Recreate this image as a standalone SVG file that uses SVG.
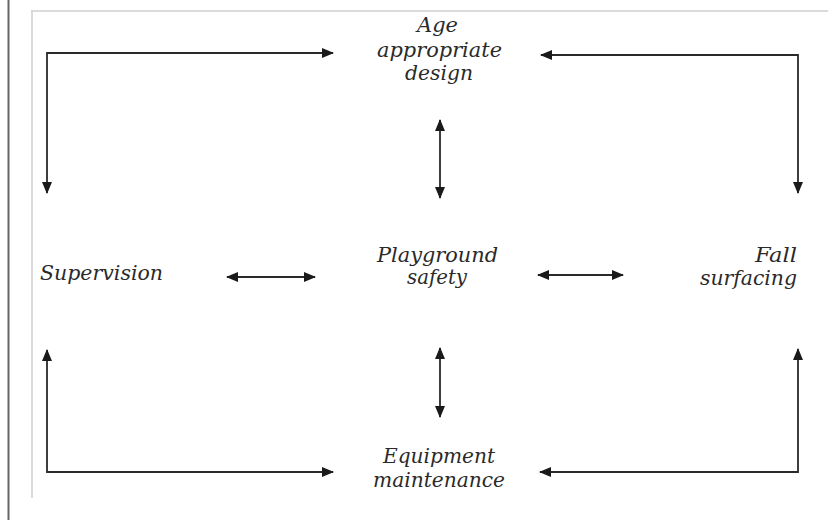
<svg xmlns="http://www.w3.org/2000/svg" width="836" height="520" viewBox="0 0 836 520">
<style>
.lbl{font-family:"DejaVu Serif","Liberation Serif",serif;font-style:italic;font-size:20px;fill:#2a2a2a}
.con{stroke:#2a2a2a;stroke-width:1.8;fill:none}
</style>
<defs>
<marker id="ah" viewBox="0 0 12 10" refX="11" refY="5" markerWidth="12" markerHeight="10" markerUnits="userSpaceOnUse" orient="auto-start-reverse">
<path d="M0,0 L12,5 L0,10 Z" fill="#1a1a1a"/>
</marker>
</defs>
<rect width="836" height="520" fill="#fff"/>
<g id="frame">
<line x1="8.5" y1="0" x2="8.5" y2="520" stroke="#666" stroke-width="2"/>
<line x1="31" y1="11" x2="828" y2="11" stroke="#cfcfcf" stroke-width="1.5"/>
<line x1="32" y1="11" x2="32" y2="498" stroke="#cfcfcf" stroke-width="1.5"/>
</g>
<g id="connectors">
<path class="con" d="M47,193 L47,53 L333,53" marker-start="url(#ah)" marker-end="url(#ah)"/>
<path class="con" d="M541,55 L798,55 L798,193" marker-start="url(#ah)" marker-end="url(#ah)"/>
<path class="con" d="M440,120 L440,198" marker-start="url(#ah)" marker-end="url(#ah)"/>
<path class="con" d="M47,350 L47,472 L333,472" marker-start="url(#ah)" marker-end="url(#ah)"/>
<path class="con" d="M540,472 L798,472 L798,349" marker-start="url(#ah)" marker-end="url(#ah)"/>
<path class="con" d="M440,348 L440,417" marker-start="url(#ah)" marker-end="url(#ah)"/>
<path class="con" d="M227,277 L315,277" marker-start="url(#ah)" marker-end="url(#ah)"/>
<path class="con" d="M538,275 L623,275" marker-start="url(#ah)" marker-end="url(#ah)"/>
</g>
<g id="age-design">
<text class="lbl" x="437.5" y="32" text-anchor="middle" textLength="41" lengthAdjust="spacingAndGlyphs">Age</text>
<text class="lbl" x="439.5" y="57" text-anchor="middle" textLength="125" lengthAdjust="spacingAndGlyphs">appropriate</text>
<text class="lbl" x="439" y="80" text-anchor="middle" textLength="68" lengthAdjust="spacingAndGlyphs">design</text>
</g>
<g id="supervision">
<text class="lbl" x="40" y="280" textLength="123" lengthAdjust="spacingAndGlyphs">Supervision</text>
</g>
<g id="playground-safety">
<text class="lbl" x="437.5" y="262" text-anchor="middle" textLength="121" lengthAdjust="spacingAndGlyphs">Playground</text>
<text class="lbl" x="437" y="284" text-anchor="middle" textLength="60" lengthAdjust="spacingAndGlyphs">safety</text>
</g>
<g id="fall-surfacing">
<text class="lbl" x="797" y="262" text-anchor="end" textLength="42" lengthAdjust="spacingAndGlyphs">Fall</text>
<text class="lbl" x="797" y="285" text-anchor="end" textLength="97" lengthAdjust="spacingAndGlyphs">surfacing</text>
</g>
<g id="equipment-maintenance">
<text class="lbl" x="439" y="463" text-anchor="middle" textLength="112" lengthAdjust="spacingAndGlyphs">Equipment</text>
<text class="lbl" x="439" y="487" text-anchor="middle" textLength="132" lengthAdjust="spacingAndGlyphs">maintenance</text>
</g>
</svg>
